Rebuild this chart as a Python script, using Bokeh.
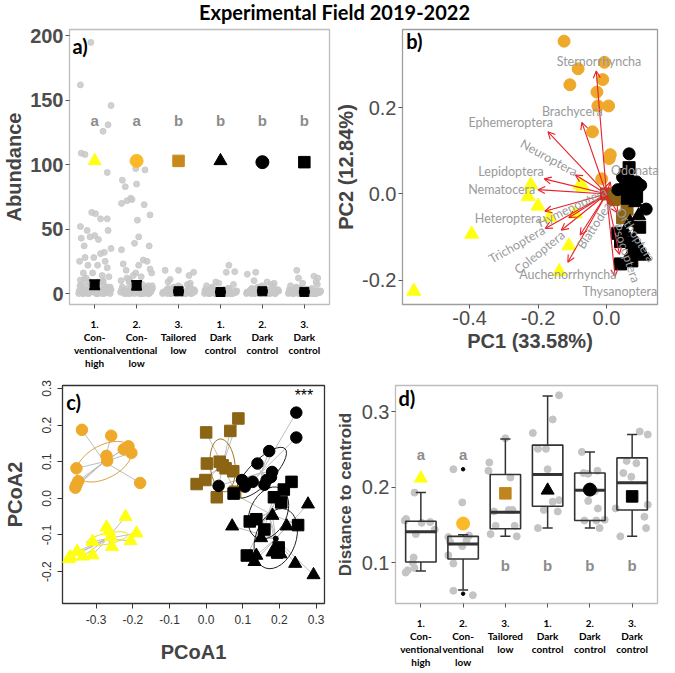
import math
from bokeh.plotting import figure
from bokeh.models import (ColumnDataSource, Div, FixedTicker, PrintfTickFormatter,
                          Range1d, Arrow, OpenHead)
from bokeh.layouts import column, row
from bokeh.embed import file_html
from bokeh.resources import INLINE
from bokeh.core.properties import value

# ---------------- data ----------------
TITLE = "Experimental Field 2019-2022"
CAT_POS = [1, 2, 3, 4, 5, 6]
CAT_LABELS = ["1.\nCon-\nventional\nhigh", "2.\nCon-\nventional\nlow", "3.\nTailored\nlow",
              "1.\nDark\ncontrol", "2.\nDark\ncontrol", "3.\nDark\ncontrol"]
SYM_MARKERS = ["triangle", "circle", "square", "triangle", "circle", "square"]
SYM_COLORS_A = ["#FFFF14", "#FBB829", "#C8891E", "#000000", "#000000", "#000000"]

# panel a: jittered abundances (offset from category, value)
A_OFF = [
    [-0.09, -0.34, 0.39, 0.32, 0.2, -0.32, -0.23, 0.3, -0.34, -0.18, -0.32, -0.11, 0.0, 0.09, -0.25, -0.07, 0.02, 0.14,
     0.3, 0.32, 0.39, 0.23, -0.23, -0.02, 0.14, 0.25, -0.36, 0.07, -0.16, 0.3, -0.27, -0.05, 0.18, 0.34, -0.34, -0.11,
     -0.38, -0.3, -0.22, -0.14, -0.06, 0.02, 0.1, 0.18, 0.26, 0.34, -0.35, -0.27, -0.19, -0.11, -0.03, 0.05, 0.13,
     0.21, 0.29, 0.37, -0.33, -0.25, -0.17, -0.09, -0.01, 0.07, 0.15, 0.23, 0.31, 0.39, -0.2, 0.0, 0.2, 0.36,
     -0.37, -0.28, -0.2, -0.12, -0.04, 0.04, 0.12, 0.2, 0.28, 0.37, -0.32, -0.16, 0.08, 0.24, 0.33],
    [-0.36, -0.23, -0.11, 0.18, 0.32, 0.02, 0.05, 0.3, -0.36, -0.05, 0.16, 0.25, 0.05, -0.32, 0.32, -0.25, 0.36, -0.02,
     0.11, -0.18, -0.34, -0.27, 0.0, -0.02, 0.2, -0.14, -0.38, -0.29, -0.21, -0.13, -0.05, 0.03, 0.11, 0.19, 0.27,
     0.35, -0.34, -0.26, -0.18, -0.1, -0.02, 0.06, 0.14, 0.22, 0.3, 0.38, -0.31, -0.23, -0.15, -0.07, 0.01, 0.09, 0.17,
     0.25, 0.33, -0.37, 0.12, -0.08, 0.28, -0.2,
     -0.36, -0.27, -0.19, -0.11, -0.03, 0.05, 0.13, 0.21, 0.29, 0.37, -0.3, -0.14, 0.1, 0.26],
    [-0.32, 0.0, 0.36, 0.25, -0.25, -0.38, -0.3, -0.22, -0.14, -0.06, 0.02, 0.1, 0.18, 0.26, 0.34, -0.35, -0.27, -0.19,
     -0.11, -0.03, 0.05, 0.13, 0.21, 0.29, 0.37, -0.33, -0.25, -0.17, -0.09, -0.01, 0.07, 0.15, 0.23, 0.31, 0.39,
     -0.2, 0.04, 0.28, -0.36, 0.16, -0.37, -0.28, -0.2, -0.12, -0.04, 0.04, 0.12, 0.2, 0.28, 0.37],
    [0.2, 0.14, 0.34, -0.11, -0.38, -0.3, -0.22, -0.14, -0.06, 0.02, 0.1, 0.18, 0.26, 0.34, -0.35, -0.27, -0.19,
     -0.11, -0.03, 0.05, 0.13, 0.21, 0.29, 0.37, -0.33, -0.25, -0.17, -0.09, -0.01, 0.07, 0.15, 0.23, 0.31, 0.39,
     -0.2, 0.04, 0.28, -0.36, 0.16, -0.04, -0.37, -0.28, -0.2, -0.12, -0.04, 0.04, 0.12, 0.2, 0.28, 0.37],
    [-0.36, -0.16, 0.11, -0.38, -0.3, -0.22, -0.14, -0.06, 0.02, 0.1, 0.18, 0.26, 0.34, -0.35, -0.27, -0.19,
     -0.11, -0.03, 0.05, 0.13, 0.21, 0.29, 0.37, -0.33, -0.25, -0.17, -0.09, -0.01, 0.07, 0.15, 0.23, 0.31, 0.39,
     -0.2, 0.04, 0.28, -0.36, 0.16, -0.04, 0.33, -0.37, -0.28, -0.2, -0.12, -0.04, 0.04, 0.12, 0.2, 0.28, 0.37],
    [-0.18, 0.23, 0.32, -0.14, -0.38, -0.3, -0.22, -0.14, -0.06, 0.02, 0.1, 0.18, 0.26, 0.34, -0.35, -0.27, -0.19,
     -0.11, -0.03, 0.05, 0.13, 0.21, 0.29, 0.37, -0.33, -0.25, -0.17, -0.09, -0.01, 0.07, 0.15, 0.23, 0.31, 0.39,
     -0.2, 0.04, 0.28, -0.36, 0.16, -0.04, -0.37, -0.28, -0.2, -0.12, -0.04, 0.04, 0.12, 0.2, 0.28, 0.37],
]
A_VAL = [
    [195, 162, 146, 131, 126, 109, 108, 94, 52, 49, 43, 44, 45, 42, 37, 63, 62, 58, 58, 49, 35, 32, 28, 28, 31, 25, 25,
     22, 22, 20, 16, 16, 14, 13, 10.5, 9,
     0, 1, 3, 0, 2, 5, 1, 0, 4, 2, 6, 0, 1, 8, 3, 0, 2, 7, 1, 0, 3, 11, 0, 4, 1, 9, 2, 0, 5, 3, 12, 6, 10, 4,
     2, 0, 6, 1, 4, 0, 3, 9, 1, 5, 7, 2, 0, 4, 1],
    [70, 72, 73, 69, 61, 57, 44, 37, 34, 39, 26, 25, 22, 23, 19, 18, 16, 16, 13, 11, 88, 83, 85, 97, 96, 74,
     1, 0, 4, 2, 0, 6, 1, 3, 0, 2, 5, 0, 9, 1, 3, 0, 7, 2, 0, 4, 1, 12, 0, 3, 8, 2, 0, 5, 1, 10, 3, 14, 6, 2,
     3, 1, 0, 5, 2, 7, 0, 4, 1, 6, 2, 9, 0, 3],
    [18, 18, 16.5, 14, 9, 0, 2, 1, 4, 0, 3, 1, 0, 6, 2, 1, 0, 3, 5, 0, 2, 1, 7, 0, 3, 1, 4, 0, 2, 6, 0, 1, 3, 0, 2,
     11, 5, 8, 1, 0, 1, 3, 0, 2, 4, 1, 0, 2, 5, 1],
    [22, 16.5, 17, 9, 0, 1, 3, 0, 2, 0, 1, 4, 0, 2, 1, 0, 5, 0, 1, 3, 0, 2, 0, 1, 6, 0, 2, 1, 0, 3, 1, 0, 7, 2,
     4, 0, 1, 3, 0, 8, 2, 0, 1, 3, 0, 2, 1, 4, 0, 1],
    [15, 16.5, 9, 0, 2, 1, 4, 0, 3, 1, 0, 6, 2, 1, 0, 3, 5, 0, 2, 1, 7, 0, 3, 1, 4, 0, 2, 6, 0, 1, 3, 0, 2,
     10, 5, 8, 1, 0, 4, 2, 1, 3, 0, 2, 5, 1, 0, 3, 1, 2],
    [18, 13.5, 12, 12, 0, 1, 3, 0, 2, 0, 1, 4, 0, 2, 1, 0, 5, 0, 1, 3, 0, 2, 0, 1, 6, 0, 2, 1, 0, 3, 1, 0, 7, 2,
     4, 0, 9, 3, 0, 8, 1, 0, 2, 4, 0, 1, 3, 0, 2, 1],
]
A_MEAN = [6.7, 6.2, 1.8, 1.2, 1.8, 1.3]
A_LOW = [3.4, 3.1, 1.1, 0.6, 1.1, 0.7]
A_HIGH = [10.4, 9.7, 2.5, 1.8, 2.5, 1.9]
A_SYM_Y = [103, 103, 103, 103, 102, 102]
A_LETTERS = ["a", "a", "b", "b", "b", "b"]
A_LETTER_Y = 134

# panel b: PCA scores
B_ORG_X = [-0.124, -0.083, -0.006, -0.107, -0.011, -0.028, -0.025, 0.006, -0.041, 0.011, 0.008, -0.014]
B_ORG_Y = [0.354, 0.29, 0.305, 0.253, 0.265, 0.236, 0.204, 0.204, 0.144, 0.091, 0.082, 0.035]
B_YEL_X = [-0.221, -0.229, -0.2, -0.166, -0.091, -0.077, -0.394, -0.11, -0.138, -0.563, -0.069]
B_YEL_Y = [0.021, -0.006, -0.028, -0.054, -0.046, 0.021, -0.093, -0.12, -0.18, -0.225, 0.016]
B_BRN_X = [0.0, 0.02, 0.047, 0.039, 0.06]
B_BRN_Y = [0.0, -0.013, -0.055, -0.01, -0.035]
B_BC_X = [0.066, 0.047, 0.069, 0.088, 0.052, 0.08, 0.033, 0.061, 0.116, 0.08, 0.1]
B_BC_Y = [0.093, 0.039, 0.032, 0.028, 0.017, 0.012, 0.01, 0.001, -0.035, -0.012, 0.02]
B_BS_X = [0.066, 0.061, 0.088, 0.097, 0.033, 0.041, 0.074, 0.088, 0.041, 0.074, 0.055]
B_BS_Y = [0.061, -0.01, -0.006, -0.077, -0.091, -0.11, -0.113, -0.133, -0.162, -0.155, 0.045]
B_BT_X = [0.094, 0.069, 0.055, 0.08, 0.097, 0.066, 0.11, 0.085]
B_BT_Y = [-0.05, -0.066, -0.088, -0.106, -0.128, -0.144, -0.144, -0.02]
B_TAXA = ["Sternorrhyncha", "Brachycera", "Ephemeroptera", "Neuroptera", "Lepidoptera", "Nematocera",
          "Heteroptera", "Trichoptera", "Coleoptera", "Hymenoptera", "Auchenorrhyncha", "Blattodea",
          "Thysanoptera", "Psocoptera", "Orthoptera", "Odonata"]
B_LOAD_X = [-0.03, -0.072, -0.171, -0.091, -0.182, -0.2, -0.18, -0.179, -0.132, -0.11, -0.113, -0.077,
            0.025, 0.038, 0.033, 0.011]
B_LOAD_Y = [0.285, 0.166, 0.144, 0.044, 0.035, 0.01, -0.04, -0.08, -0.084, -0.055, -0.158, -0.095,
            -0.191, -0.14, -0.044, 0.028]
B_LAB_X = [-0.022, -0.1, -0.28, -0.168, -0.279, -0.306, -0.287, -0.262, -0.196, -0.1, -0.113, -0.036,
           0.039, 0.058, 0.085, 0.083]
B_LAB_Y = [0.307, 0.19, 0.166, 0.084, 0.052, 0.01, -0.057, -0.117, -0.135, -0.03, -0.187, -0.073,
           -0.225, -0.137, -0.095, 0.055]
B_LAB_ANGLE = [0, 0, 0, -0.5, 0, 0, 0, 0.52, 0.68, 0.45, 0, 1.0, 0, -1.24, -1.0, 0]

# panel c: PCoA
C_ORG_X = [-0.339, -0.259, -0.354, -0.272, -0.27, -0.225, -0.212, -0.204, -0.349, -0.354, -0.357, -0.18]
C_ORG_Y = [0.187, 0.171, 0.082, 0.116, 0.103, 0.134, 0.142, 0.124, 0.047, 0.037, 0.029, 0.042]
C_YEL_X = [-0.22, -0.272, -0.19, -0.31, -0.26, -0.257, -0.206, -0.352, -0.37, -0.336, -0.31, -0.375, -0.265]
C_YEL_Y = [-0.05, -0.079, -0.095, -0.118, -0.105, -0.132, -0.116, -0.145, -0.16, -0.158, -0.155, -0.165, -0.09]
C_BRN_X = [0.088, 0.0, 0.066, 0.002, 0.037, 0.053, 0.074, -0.002, -0.026, 0.029, 0.079, 0.045]
C_BRN_Y = [0.218, 0.18, 0.184, 0.095, 0.1, 0.082, 0.074, 0.05, 0.039, 0.003, 0.018, 0.09]
C_BC_X = [0.246, 0.246, 0.172, 0.14, 0.098, 0.106, 0.127, 0.159, 0.177, 0.18, 0.034, 0.165]
C_BC_Y = [0.234, 0.166, 0.129, 0.095, 0.05, 0.032, 0.045, 0.037, 0.058, 0.072, 0.034, 0.05]
C_BS_X = [0.075, 0.233, 0.212, 0.185, 0.205, 0.119, 0.137, 0.159, 0.251, 0.111, 0.198, 0.194]
C_BS_Y = [0.013, 0.045, 0.024, 0.003, -0.011, -0.063, -0.057, -0.085, -0.073, -0.156, -0.134, -0.148]
C_BT_X = [0.071, 0.278, 0.181, 0.22, 0.15, 0.137, 0.132, 0.181, 0.243, 0.293, 0.203]
C_BT_Y = [-0.076, -0.016, -0.047, -0.076, -0.108, -0.156, -0.173, -0.147, -0.178, -0.209, -0.152]
C_CENTROIDS = {"org": (-0.278, 0.1), "yel": (-0.27, -0.11), "brn": (0.045, 0.09),
               "bc": (0.15, 0.07), "bs": (0.17, -0.04), "bt": (0.19, -0.11)}
C_ELL = {"org": (0.165, 0.09, 28), "yel": (0.115, 0.03, 12), "brn": (0.068, 0.145, 6),
         "bc": (0.185, 0.065, 45), "bs": (0.15, 0.1, 65), "bt": (0.17, 0.11, 70)}

# panel d: distance to centroid
D_WLO = [0.089, 0.064, 0.135, 0.146, 0.146, 0.135]
D_Q1 = [0.101, 0.105, 0.145, 0.175, 0.156, 0.170]
D_MED = [0.141, 0.125, 0.167, 0.217, 0.196, 0.206]
D_Q3 = [0.155, 0.135, 0.217, 0.256, 0.219, 0.239]
D_WHI = [0.193, 0.137, 0.264, 0.321, 0.247, 0.270]
D_OUT_G = [2, 2]
D_OUT_V = [0.224, 0.059]
D_MEAN = [0.212, 0.152, 0.192, 0.196, 0.197, 0.188]
D_SYM_COLORS = ["#FFFF14", "#FBB829", "#C0861E", "#000000", "#000000", "#000000"]
D_LETTERS = ["a", "a", "b", "b", "b", "b"]
D_LETTER_Y = [0.244, 0.244, 0.096, 0.096, 0.096, 0.096]
D_OFF = [
    [-0.15, -0.35, -0.38, 0.02, 0.22, 0.33, -0.12, -0.17, -0.19, -0.31, -0.36, -0.15],
    [-0.23, -0.02, -0.35, -0.31, 0.08, 0.14, -0.35, -0.23, -0.23, 0.23, -0.02],
    [-0.38, -0.4, 0.0, 0.12, -0.27, 0.08, 0.17, -0.35, -0.23, 0.22, 0.27],
    [0.27, 0.12, -0.35, -0.23, -0.04, 0.0, 0.27, 0.12, -0.09, 0.24, -0.23],
    [-0.19, -0.15, -0.04, 0.18, 0.12, -0.04, 0.19, -0.13, 0.15, 0.35, 0.23],
    [0.18, 0.37, -0.13, 0.1, -0.21, -0.02, 0.37, -0.39, 0.29, 0.33, -0.28],
]
D_VAL = [
    [0.193, 0.158, 0.156, 0.153, 0.154, 0.144, 0.138, 0.107, 0.1, 0.09, 0.087, 0.093],
    [0.224, 0.18, 0.134, 0.128, 0.13, 0.136, 0.11, 0.099, 0.063, 0.057, 0.122],
    [0.233, 0.222, 0.265, 0.213, 0.168, 0.17, 0.17, 0.138, 0.149, 0.149, 0.135],
    [0.322, 0.29, 0.272, 0.251, 0.251, 0.224, 0.183, 0.181, 0.17, 0.168, 0.146],
    [0.247, 0.219, 0.218, 0.222, 0.195, 0.182, 0.172, 0.156, 0.156, 0.157, 0.146],
    [0.274, 0.27, 0.235, 0.232, 0.219, 0.214, 0.177, 0.172, 0.161, 0.146, 0.135],
]

# ---------------- styling helpers ----------------
SANS = "Liberation Sans"
CAL = "Lato"
GRAY_TXT = "#4D4D4D"


def base(p, outline="#BDBDBD"):
    p.xgrid.visible = False
    p.ygrid.visible = False
    p.outline_line_color = outline
    p.outline_line_width = 1.3
    for ax in (p.xaxis[0], p.yaxis[0]):
        ax.axis_line_color = None
        ax.minor_tick_line_color = None
        ax.major_tick_in = 0
        ax.major_tick_out = 4
        ax.major_tick_line_color = "#555555"


def cat_xaxis(p):
    p.xaxis.ticker = FixedTicker(ticks=CAT_POS)
    p.xaxis.major_label_overrides = {c: l for c, l in zip(CAT_POS, CAT_LABELS)}
    p.xaxis.major_label_text_font = CAL
    p.xaxis.major_label_text_font_style = "bold"
    p.xaxis.major_label_text_font_size = "10px"
    p.xaxis.major_label_text_color = "black"
    p.xaxis.major_label_text_line_height = 1.1
    p.xaxis.major_label_standoff = 9


def panel_tag(p, x, y, t):
    p.text(x=[x], y=[y], text=[t], text_font=value(CAL), text_font_style="bold",
           text_font_size="20px", text_color="black", text_baseline="middle", text_align="left")


# ---------------- panel a ----------------
pa = figure(width=332, height=346, x_range=Range1d(0.4, 6.6), y_range=Range1d(-8.5, 205),
            output_backend="svg", toolbar_location=None, min_border_left=56, min_border_right=3,
            min_border_top=3, min_border_bottom=62)
base(pa)
cat_xaxis(pa)
pa.yaxis.ticker = FixedTicker(ticks=[0, 50, 100, 150, 200])
pa.yaxis.major_label_text_font = SANS
pa.yaxis.major_label_text_font_style = "bold"
pa.yaxis.major_label_text_font_size = "20px"
pa.yaxis.major_label_text_color = GRAY_TXT
pa.yaxis.major_label_standoff = 2
pa.yaxis.axis_label = "Abundance"
pa.yaxis.axis_label_text_font = SANS
pa.yaxis.axis_label_text_font_style = "bold"
pa.yaxis.axis_label_text_font_size = "20px"
pa.yaxis.axis_label_standoff = 2
for i, c in enumerate(CAT_POS):
    xs = [c + o for o in A_OFF[i]]
    pa.scatter(xs, A_VAL[i], size=6, color="#C8C8C8", alpha=0.85)
pa.segment(CAT_POS, A_LOW, CAT_POS, A_HIGH, line_color="black", line_width=3)
pa.segment([c - 0.13 for c in CAT_POS], A_LOW, [c + 0.13 for c in CAT_POS], A_LOW, line_color="black", line_width=2)
pa.segment([c - 0.13 for c in CAT_POS], A_HIGH, [c + 0.13 for c in CAT_POS], A_HIGH, line_color="black", line_width=2)
pa.scatter(CAT_POS, A_MEAN, marker="square", size=9, color="black")
for c, yv, m, col in zip(CAT_POS, A_SYM_Y, SYM_MARKERS, SYM_COLORS_A):
    pa.scatter([c], [yv], marker=m, size=13 if m != "square" else 11.5, color=col)
pa.text(CAT_POS, [A_LETTER_Y] * 6, text=A_LETTERS, text_font=value(SANS), text_font_style="bold",
        text_font_size="15px", text_color="#8C8C8C", text_align="center", text_baseline="middle")
panel_tag(pa, 0.47, 192, "a)")

# ---------------- panel b ----------------
pb = figure(width=327, height=346, x_range=Range1d(-0.596, 0.149), y_range=Range1d(-0.256, 0.381),
            output_backend="svg", toolbar_location=None, min_border_left=64, min_border_right=2,
            min_border_top=3, min_border_bottom=60)
base(pb, outline="#9E9E9E")
pb.xaxis.ticker = FixedTicker(ticks=[-0.4, -0.2, 0.0])
pb.yaxis.ticker = FixedTicker(ticks=[-0.2, 0.0, 0.2])
for ax in (pb.xaxis[0], pb.yaxis[0]):
    ax.formatter = PrintfTickFormatter(format="%.1f")
    ax.major_label_text_font = SANS
    ax.major_label_text_font_size = "20px"
    ax.major_label_text_color = GRAY_TXT
    ax.major_label_standoff = 2
    ax.axis_label_text_font = SANS
    ax.axis_label_text_font_style = "bold"
    ax.axis_label_text_font_size = "20px"
    ax.axis_label_standoff = 2
pb.xaxis.axis_label = "PC1 (33.58%)"
pb.yaxis.axis_label = "PC2 (12.84%)"
pb.scatter(B_ORG_X, B_ORG_Y, marker="circle", size=12, color="#EFA92A")
pb.scatter(B_YEL_X, B_YEL_Y, marker="triangle", size=14, color="#FFFF14")
pb.scatter(B_BRN_X, B_BRN_Y, marker="square", size=12, color="#8B6414")
pb.scatter(B_BC_X, B_BC_Y, marker="circle", size=12, color="black")
pb.scatter(B_BS_X, B_BS_Y, marker="square", size=12, color="black")
pb.scatter(B_BT_X, B_BT_Y, marker="triangle", size=14, color="black")
arr_src = ColumnDataSource(dict(x0=[0.0] * len(B_LOAD_X), y0=[0.0] * len(B_LOAD_Y), x1=B_LOAD_X, y1=B_LOAD_Y))
pb.add_layout(Arrow(end=OpenHead(size=7, line_color="#E8202A", line_width=1.1), source=arr_src,
                    x_start="x0", y_start="y0", x_end="x1", y_end="y1",
                    line_color="#E8202A", line_width=1.1))
pb.text(B_LAB_X, B_LAB_Y, text=B_TAXA, angle=B_LAB_ANGLE, text_font=value(CAL), text_font_size="12.5px",
        text_color="#9A9A9A", text_align="center", text_baseline="middle", level="overlay")
panel_tag(pb, -0.585, 0.355, "b)")

# ---------------- panel c ----------------
pc = figure(width=332, height=299, x_range=Range1d(-0.392, 0.323), y_range=Range1d(-0.287, 0.308),
            output_backend="svg", toolbar_location=None, min_border_left=56, min_border_right=8,
            min_border_top=13, min_border_bottom=62)
base(pc, outline="#333333")
pc.xaxis.ticker = FixedTicker(ticks=[-0.3, -0.2, -0.1, 0.0, 0.1, 0.2, 0.3])
pc.yaxis.ticker = FixedTicker(ticks=[-0.2, -0.1, 0.0, 0.1, 0.2, 0.3])
for ax in (pc.xaxis[0], pc.yaxis[0]):
    ax.formatter = PrintfTickFormatter(format="%.1f")
    ax.major_label_text_font = SANS
    ax.major_label_text_font_size = "12px"
    ax.major_label_text_color = "#333333"
    ax.major_tick_out = 5
    ax.major_tick_line_color = "#333333"
    ax.major_label_standoff = 6
    ax.axis_label_text_font = SANS
    ax.axis_label_text_font_style = "bold"
    ax.axis_label_text_font_size = "20px"
    ax.axis_label_standoff = 14
pc.yaxis.major_label_orientation = "vertical"
pc.xaxis.axis_label = "PCoA1"
pc.yaxis.axis_label = "PCoA2"
groups_c = [("org", C_ORG_X, C_ORG_Y, "circle", "#EFA92A", "#D9A34A"),
            ("yel", C_YEL_X, C_YEL_Y, "triangle", "#FFFF14", "#E8E020"),
            ("brn", C_BRN_X, C_BRN_Y, "square", "#8B6414", "#A07820"),
            ("bc", C_BC_X, C_BC_Y, "circle", "black", "#222222"),
            ("bs", C_BS_X, C_BS_Y, "square", "black", "#222222"),
            ("bt", C_BT_X, C_BT_Y, "triangle", "black", "#222222")]
for key, xs, ys, m, col, ecol in groups_c:
    cx, cy = C_CENTROIDS[key]
    pc.segment(xs, ys, [cx] * len(xs), [cy] * len(ys), line_color="#BDBDBD", line_width=1)
for key, xs, ys, m, col, ecol in groups_c:
    cx, cy = C_CENTROIDS[key]
    w, h, ang = C_ELL[key]
    pc.ellipse([cx], [cy], width=w, height=h, angle=math.radians(ang), fill_alpha=0,
               line_color=ecol, line_width=1)
for key, xs, ys, m, col, ecol in groups_c:
    pc.scatter(xs, ys, marker=m, size=13 if m == "triangle" else 11.5, color=col)
pc.scatter([C_CENTROIDS["bt"][0]], [C_CENTROIDS["bt"][1]], size=5, color="black")
pc.text([0.267], [0.282], text=["***"], text_font=value(SANS), text_font_size="16px", text_color="black",
        text_align="center", text_baseline="middle")
panel_tag(pc, -0.382, 0.262, "c)")

# ---------------- panel d ----------------
pd_ = figure(width=327, height=299, x_range=Range1d(0.4, 6.6), y_range=Range1d(0.046, 0.335),
             output_backend="svg", toolbar_location=None, min_border_left=62, min_border_right=2,
             min_border_top=13, min_border_bottom=62)
base(pd_)
cat_xaxis(pd_)
pd_.yaxis.ticker = FixedTicker(ticks=[0.1, 0.2, 0.3])
pd_.yaxis.formatter = PrintfTickFormatter(format="%.1f")
pd_.yaxis.major_label_text_font = SANS
pd_.yaxis.major_label_text_font_size = "20px"
pd_.yaxis.major_label_text_color = GRAY_TXT
pd_.yaxis.major_label_standoff = 2
pd_.yaxis.axis_label = "Distance to centroid"
pd_.yaxis.axis_label_text_font = SANS
pd_.yaxis.axis_label_text_font_style = "bold"
pd_.yaxis.axis_label_text_font_size = "17px"
pd_.yaxis.axis_label_standoff = 4
for i, c in enumerate(CAT_POS):
    pd_.scatter([c + o for o in D_OFF[i]], D_VAL[i], size=7, color="#C4C4C4")
pd_.segment(CAT_POS, D_Q3, CAT_POS, D_WHI, line_color="#333333", line_width=1.5)
pd_.segment(CAT_POS, D_WLO, CAT_POS, D_Q1, line_color="#333333", line_width=1.5)
pd_.segment([c - 0.12 for c in CAT_POS], D_WHI, [c + 0.12 for c in CAT_POS], D_WHI, line_color="#333333", line_width=1.5)
pd_.segment([c - 0.12 for c in CAT_POS], D_WLO, [c + 0.12 for c in CAT_POS], D_WLO, line_color="#333333", line_width=1.5)
pd_.quad(left=[c - 0.36 for c in CAT_POS], right=[c + 0.36 for c in CAT_POS], bottom=D_Q1, top=D_Q3,
         fill_alpha=0, line_color="#333333", line_width=1.6)
pd_.segment([c - 0.36 for c in CAT_POS], D_MED, [c + 0.36 for c in CAT_POS], D_MED, line_color="#333333", line_width=3)
pd_.scatter(D_OUT_G, D_OUT_V, size=3.5, color="black")
for c, yv, m, col in zip(CAT_POS, D_MEAN, SYM_MARKERS, D_SYM_COLORS):
    pd_.scatter([c], [yv], marker=m, size=13 if m != "square" else 11.5, color=col)
pd_.text(CAT_POS, D_LETTER_Y, text=D_LETTERS, text_font=value(SANS), text_font_style="bold",
         text_font_size="15px", text_color="#8C8C8C", text_align="center", text_baseline="middle")
panel_tag(pd_, 0.47, 0.318, "d)")

title = Div(text='<div style="width:659px;text-align:center;font-family:Lato;font-weight:bold;font-size:20px;'
                 'line-height:15px;color:black;">' + TITLE + '</div>', width=659, height=16)

layout = column(title, row(pa, pb), row(pc, pd_))
open("out.html", "w").write(file_html(layout, INLINE))
